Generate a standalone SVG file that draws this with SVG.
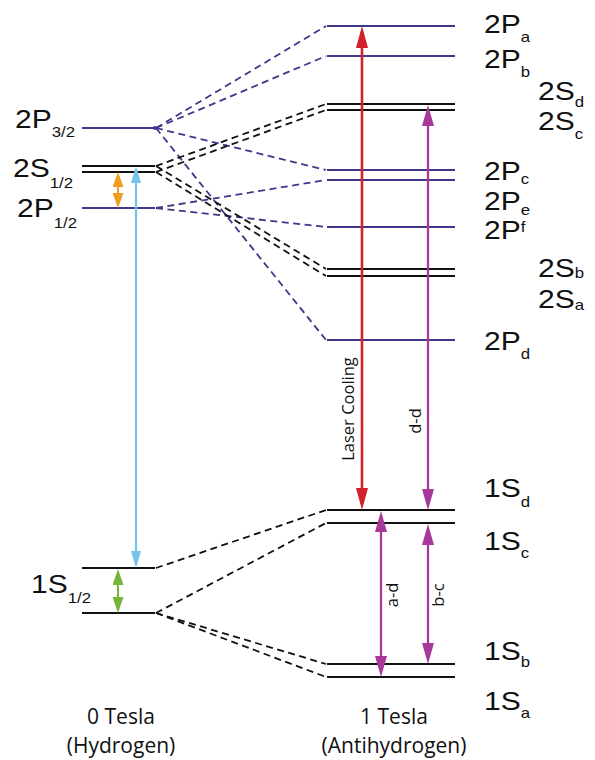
<svg xmlns="http://www.w3.org/2000/svg" width="595" height="760" viewBox="0 0 595 760">
<style>
.bg{fill:#ffffff}
.lvP{stroke:#3d3889;stroke-width:2;fill:none}
.lvS{stroke:#111111;stroke-width:2;fill:none}
.dP{stroke:#3d3889;stroke-width:1.8;stroke-dasharray:7 4.5;fill:none}
.dS{stroke:#111111;stroke-width:1.8;stroke-dasharray:7 4.5;fill:none}
.lbl{font-family:"Liberation Sans",Arial,sans-serif;font-size:25px;fill:#111111}
.sub{font-size:14px}
.cap{font-family:"Open Sans","Liberation Sans",sans-serif;font-size:21px;fill:#111111;text-anchor:middle}
.rot{font-family:"Open Sans","Liberation Sans",sans-serif;font-size:16.5px;fill:#111111;text-anchor:middle}
.red{stroke:#d3202a;stroke-width:2.6}
.mag{stroke:#a8389a;stroke-width:2.3}
.blu{stroke:#74c4e8;stroke-width:2.2}
.org{stroke:#ee9d1e;stroke-width:2}
.grn{stroke:#79b43c;stroke-width:2}
</style>
<defs>
<marker id="mRed" markerUnits="userSpaceOnUse" markerWidth="22" markerHeight="12" refX="16" refY="6" orient="auto-start-reverse"><path d="M0,0 L22,6 L0,12 z" fill="#d3202a"/></marker>
<marker id="mMag" markerUnits="userSpaceOnUse" markerWidth="21" markerHeight="12" refX="15" refY="6" orient="auto-start-reverse"><path d="M0,0 L21,6 L0,12 z" fill="#a8389a"/></marker>
<marker id="mBlu" markerUnits="userSpaceOnUse" markerWidth="17" markerHeight="10" refX="12" refY="5" orient="auto-start-reverse"><path d="M0,0 L17,5 L0,10 z" fill="#74c4e8"/></marker>
<marker id="mOrg" markerUnits="userSpaceOnUse" markerWidth="15" markerHeight="11" refX="11" refY="5.5" orient="auto-start-reverse"><path d="M0,0 L15,5.5 L0,11 z" fill="#ee9d1e"/></marker>
<marker id="mGrn" markerUnits="userSpaceOnUse" markerWidth="16" markerHeight="11" refX="12" refY="5.5" orient="auto-start-reverse"><path d="M0,0 L16,5.5 L0,11 z" fill="#79b43c"/></marker>
</defs>
<rect class="bg" x="0" y="0" width="595" height="760"/>

<g id="connectors">
  <line class="dP" x1="156" y1="128" x2="326" y2="26"/>
  <line class="dP" x1="156" y1="128" x2="326" y2="56"/>
  <line class="dP" x1="156" y1="128" x2="326" y2="170"/>
  <line class="dP" x1="156" y1="128" x2="326" y2="340"/>
  <line class="dP" x1="156" y1="208" x2="326" y2="180"/>
  <line class="dP" x1="156" y1="208" x2="326" y2="227"/>
  <line class="dS" x1="156" y1="166" x2="326" y2="104"/>
  <line class="dS" x1="156" y1="172" x2="326" y2="110"/>
  <line class="dS" x1="156" y1="166" x2="326" y2="269"/>
  <line class="dS" x1="156" y1="172" x2="326" y2="276"/>
  <line class="dS" x1="156" y1="568" x2="326" y2="510"/>
  <line class="dS" x1="156" y1="613" x2="326" y2="523"/>
  <line class="dS" x1="156" y1="613" x2="326" y2="664"/>
  <line class="dS" x1="156" y1="613" x2="326" y2="677"/>
</g>

<g id="h-2P32">
  <line class="lvP" x1="82" y1="128" x2="155" y2="128"/>
  <circle cx="155" cy="128" r="2" fill="#3d3889"/>
  <text class="lbl" transform="translate(15,128) scale(1.2,1)">2P<tspan class="sub" dy="9">3/2</tspan></text>
</g>
<g id="h-2S12">
  <line class="lvS" x1="82" y1="166" x2="155" y2="166"/>
  <line class="lvS" x1="82" y1="172" x2="155" y2="172"/>
  <text class="lbl" transform="translate(13,177) scale(1.2,1)">2S<tspan class="sub" dy="11">1/2</tspan></text>
</g>
<g id="h-2P12">
  <line class="lvP" x1="82" y1="208" x2="155" y2="208"/>
  <text class="lbl" transform="translate(17,217) scale(1.2,1)">2P<tspan class="sub" dy="11">1/2</tspan></text>
</g>
<g id="h-1S12">
  <line class="lvS" x1="82" y1="568" x2="155" y2="568"/>
  <line class="lvS" x1="82" y1="613" x2="155" y2="613"/>
  <text class="lbl" transform="translate(31,593) scale(1.2,1)">1S<tspan class="sub" dy="10">1/2</tspan></text>
</g>

<g id="ah-2Pa">
  <line class="lvP" x1="327" y1="26" x2="455" y2="26"/>
  <text class="lbl" transform="translate(484,33) scale(1.2,1)">2P<tspan class="sub" dy="9">a</tspan></text>
</g>
<g id="ah-2Pb">
  <line class="lvP" x1="327" y1="56" x2="455" y2="56"/>
  <text class="lbl" transform="translate(484,68) scale(1.2,1)">2P<tspan class="sub" dy="9">b</tspan></text>
</g>
<g id="ah-2Sd">
  <line class="lvS" x1="327" y1="104" x2="455" y2="104"/>
  <text class="lbl" transform="translate(538,100) scale(1.2,1)">2S<tspan class="sub" dy="7">d</tspan></text>
</g>
<g id="ah-2Sc">
  <line class="lvS" x1="327" y1="110" x2="455" y2="110"/>
  <text class="lbl" transform="translate(538,130) scale(1.2,1)">2S<tspan class="sub" dy="9">c</tspan></text>
</g>
<g id="ah-2Pc">
  <line class="lvP" x1="327" y1="170" x2="455" y2="170"/>
  <text class="lbl" transform="translate(484,180) scale(1.2,1)">2P<tspan class="sub" dy="4">c</tspan></text>
</g>
<g id="ah-2Pe">
  <line class="lvP" x1="327" y1="180" x2="455" y2="180"/>
  <text class="lbl" transform="translate(484,210) scale(1.2,1)">2P<tspan class="sub" dy="5">e</tspan></text>
</g>
<g id="ah-2Pf">
  <line class="lvP" x1="327" y1="227" x2="455" y2="227"/>
  <text class="lbl" transform="translate(484,239) scale(1.2,1)">2P<tspan class="sub" dy="-7">f</tspan></text>
</g>
<g id="ah-2Sb">
  <line class="lvS" x1="327" y1="269" x2="455" y2="269"/>
  <text class="lbl" transform="translate(538,277) scale(1.2,1)">2S<tspan class="sub" dy="1">b</tspan></text>
</g>
<g id="ah-2Sa">
  <line class="lvS" x1="327" y1="276" x2="455" y2="276"/>
  <text class="lbl" transform="translate(538,308) scale(1.2,1)">2S<tspan class="sub" dy="2">a</tspan></text>
</g>
<g id="ah-2Pd">
  <line class="lvP" x1="327" y1="340" x2="455" y2="340"/>
  <text class="lbl" transform="translate(484,350) scale(1.2,1)">2P<tspan class="sub" dy="9">d</tspan></text>
</g>
<g id="ah-1Sd">
  <line class="lvS" x1="327" y1="510" x2="455" y2="510"/>
  <text class="lbl" transform="translate(484,497) scale(1.2,1)">1S<tspan class="sub" dy="10">d</tspan></text>
</g>
<g id="ah-1Sc">
  <line class="lvS" x1="327" y1="523" x2="455" y2="523"/>
  <text class="lbl" transform="translate(484,550) scale(1.2,1)">1S<tspan class="sub" dy="8">c</tspan></text>
</g>
<g id="ah-1Sb">
  <line class="lvS" x1="327" y1="664" x2="455" y2="664"/>
  <text class="lbl" transform="translate(484,660) scale(1.2,1)">1S<tspan class="sub" dy="7">b</tspan></text>
</g>
<g id="ah-1Sa">
  <line class="lvS" x1="327" y1="677" x2="455" y2="677"/>
  <text class="lbl" transform="translate(484,710) scale(1.2,1)">1S<tspan class="sub" dy="8">a</tspan></text>
</g>

<g id="transitions">
  <line class="red" x1="362" y1="32" x2="362" y2="504" marker-start="url(#mRed)" marker-end="url(#mRed)"/>
  <line class="mag" x1="428" y1="111" x2="428" y2="504" marker-start="url(#mMag)" marker-end="url(#mMag)"/>
  <line class="mag" x1="381" y1="517" x2="381" y2="671" marker-start="url(#mMag)" marker-end="url(#mMag)"/>
  <line class="mag" x1="428" y1="530" x2="428" y2="658" marker-start="url(#mMag)" marker-end="url(#mMag)"/>
  <line class="blu" x1="136" y1="171" x2="136" y2="563" marker-start="url(#mBlu)" marker-end="url(#mBlu)"/>
  <line class="org" x1="118" y1="176" x2="118" y2="204" marker-start="url(#mOrg)" marker-end="url(#mOrg)"/>
  <line class="grn" x1="118" y1="573" x2="118" y2="609" marker-start="url(#mGrn)" marker-end="url(#mGrn)"/>
  <text class="rot" transform="translate(354,409) rotate(-90)">Laser Cooling</text>
  <text class="rot" transform="translate(421,421) rotate(-90)">d-d</text>
  <text class="rot" transform="translate(398,595) rotate(-90)">a-d</text>
  <text class="rot" transform="translate(444,595) rotate(-90)">b-c</text>
</g>

<g id="captions">
  <text class="cap" x="121" y="724">0 Tesla</text>
  <text class="cap" x="121" y="753">(Hydrogen)</text>
  <text class="cap" x="394" y="724">1 Tesla</text>
  <text class="cap" x="394" y="753">(Antihydrogen)</text>
</g>
</svg>
